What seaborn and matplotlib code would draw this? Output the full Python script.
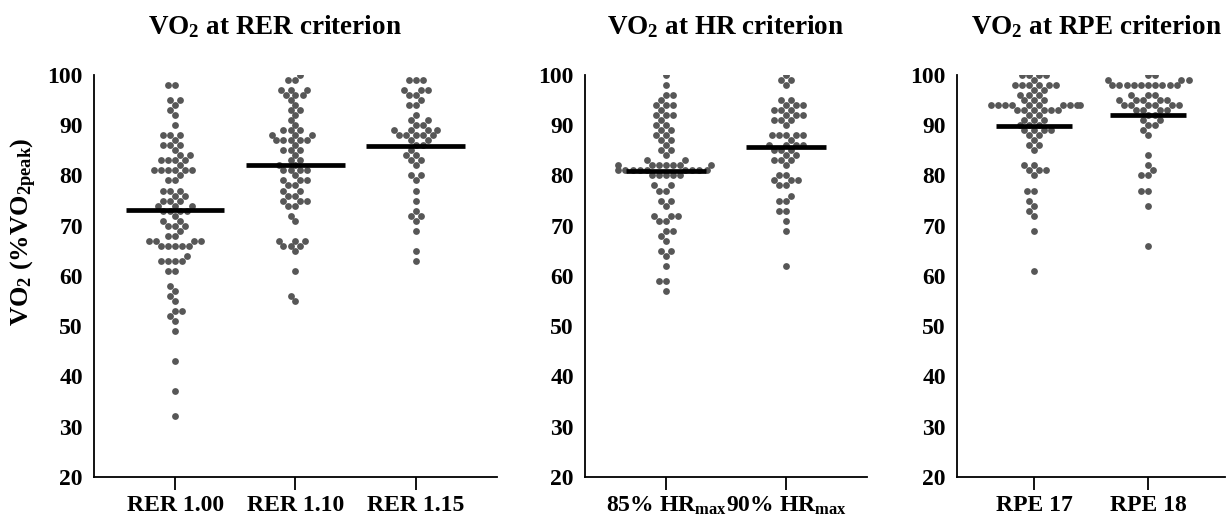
import numpy as np
import pandas as pd
import seaborn as sns
import matplotlib.pyplot as plt

# values (value -> number of dots)
rer100_vals = [98, 95, 94, 93, 92, 90, 88, 87, 86, 85, 84, 83, 82, 81, 80, 79, 77, 76, 75, 74, 73,
               72, 71, 70, 69, 68, 67, 66, 64, 63, 61, 58, 57, 56, 55, 53, 52, 51, 49, 43, 37, 32]
rer100_n = [2, 2, 1, 1, 1, 1, 3, 1, 3, 1, 2, 4, 1, 6, 1, 2, 3, 2, 3, 3, 4,
            1, 2, 3, 1, 2, 4, 5, 1, 4, 2, 1, 1, 1, 1, 2, 1, 1, 1, 1, 1, 1]
rer110_vals = [100, 99, 97, 96, 95, 94, 93, 92, 91, 90, 89, 88, 87, 86, 85, 84, 83, 82, 81, 80,
               79, 78, 77, 76, 75, 74, 72, 71, 67, 66, 65, 61, 56, 55]
rer110_n = [1, 2, 3, 3, 1, 1, 2, 1, 1, 1, 3, 3, 5, 1, 3, 1, 2, 2, 4, 1,
            3, 2, 2, 2, 3, 2, 1, 1, 3, 3, 1, 1, 1, 1]
rer115_vals = [99, 97, 96, 95, 94, 92, 91, 90, 89, 88, 87, 86, 85, 84, 83, 82, 80, 79, 77, 75,
               73, 72, 71, 69, 65, 63]
rer115_n = [3, 3, 2, 1, 2, 1, 2, 2, 4, 5, 2, 2, 1, 2, 2, 1, 2, 1, 1, 1,
            1, 2, 1, 1, 1, 1]
hr85_vals = [100, 98, 96, 95, 94, 93, 92, 91, 90, 89, 88, 87, 86, 85, 84, 83, 82, 81, 80, 78,
             77, 75, 74, 72, 71, 69, 68, 67, 65, 64, 62, 59, 57]
hr85_n = [1, 1, 2, 1, 3, 1, 3, 1, 2, 2, 2, 2, 1, 2, 1, 2, 7, 9, 5, 2,
          2, 2, 1, 3, 2, 2, 1, 1, 2, 1, 1, 2, 1]
hr90_vals = [100, 99, 98, 95, 94, 93, 92, 91, 90, 88, 87, 86, 85, 84, 83, 82, 80, 79, 78, 76,
             75, 73, 71, 69, 62]
hr90_n = [1, 2, 1, 2, 3, 3, 3, 3, 1, 5, 1, 4, 3, 2, 3, 1, 2, 3, 2, 1,
          2, 2, 1, 1, 1]
rpe17_vals = [100, 99, 98, 97, 96, 95, 94, 93, 92, 91, 90, 89, 88, 87, 86, 85, 82, 81, 80, 77,
              75, 74, 73, 72, 69, 61]
rpe17_n = [4, 1, 6, 2, 3, 3, 10, 6, 2, 3, 3, 4, 2, 1, 2, 1, 2, 3, 1, 2,
           1, 1, 1, 1, 1, 1]
rpe18_vals = [100, 99, 98, 96, 95, 94, 93, 92, 91, 90, 89, 88, 84, 82, 81, 80, 77, 74, 66]
rpe18_n = [2, 3, 10, 3, 5, 6, 4, 2, 2, 2, 1, 1, 1, 1, 1, 2, 2, 1, 1]

panels = [
    (r"VO$_\mathbf{2}$ at RER criterion", ["RER 1.00", "RER 1.10", "RER 1.15"],
     [(rer100_vals, rer100_n), (rer110_vals, rer110_n), (rer115_vals, rer115_n)]),
    (r"VO$_\mathbf{2}$ at HR criterion", [r"85% HR$_{\mathrm{max}}$", r"90% HR$_{\mathrm{max}}$"],
     [(hr85_vals, hr85_n), (hr90_vals, hr90_n)]),
    (r"VO$_\mathbf{2}$ at RPE criterion", ["RPE 17", "RPE 18"],
     [(rpe17_vals, rpe17_n), (rpe18_vals, rpe18_n)]),
]

sns.set_style("ticks")
plt.rcParams['font.family'] = ['Liberation Serif', 'DejaVu Serif']
plt.rcParams['font.weight'] = 'bold'
plt.rcParams['mathtext.fontset'] = 'custom'
plt.rcParams['mathtext.rm'] = 'Liberation Serif'
plt.rcParams['mathtext.bf'] = 'Liberation Serif:bold'
plt.rcParams['mathtext.it'] = 'Liberation Serif:italic'
for key in ['text.color', 'axes.labelcolor', 'xtick.color', 'ytick.color', 'axes.edgecolor']:
    plt.rcParams[key] = 'black'

fig = plt.figure(figsize=(12.27, 5.21), dpi=100)
# axes boxes [left, bottom, width, height] in figure fraction
boxes = [[0.0766, 0.085, 0.3284, 0.771],
         [0.4768, 0.085, 0.2298, 0.771],
         [0.7800, 0.085, 0.2184, 0.771]]
title_x = [0.449, 0.5, 0.52]
half_w = [0.41, 0.33, 0.33]  # half width of the mean bars

for k, (title, labels, groups) in enumerate(panels):
    ax = fig.add_axes(boxes[k])
    rows = []
    for lab, (vals, n) in zip(labels, groups):
        for v in np.repeat(vals, n):
            rows.append({'group': lab, 'value': v})
    df = pd.DataFrame(rows)
    sns.swarmplot(data=df, x='group', y='value', order=labels, color='#575757',
                  size=4.9, linewidth=0, ax=ax)
    means = df.groupby('group')['value'].mean()
    for i, lab in enumerate(labels):
        ax.hlines(means[lab], i - half_w[k], i + half_w[k], color='black', lw=3.4, zorder=5)

    ax.set_xlim(-0.675, len(labels) - 1 + 0.675)
    ax.set_ylim(20, 100)
    ax.set_yticks(range(20, 101, 10))
    ax.set_xlabel('')
    ax.set_ylabel('')
    sns.despine(ax=ax)
    for s in ['left', 'bottom']:
        ax.spines[s].set_linewidth(1.3)
        ax.spines[s].set_color('black')
    ax.tick_params(axis='y', length=0, pad=8, labelsize=17, colors='black')
    ax.tick_params(axis='x', length=9, width=1.3, pad=4, labelsize=17, colors='black')
    for t in ax.get_xticklabels() + ax.get_yticklabels():
        t.set_fontweight('bold')
    ax.text(title_x[k], 1.12, title, transform=ax.transAxes, ha='center', va='center',
            fontsize=19.5, fontweight='bold', color='black')
    if k == 0:
        ax.set_ylabel(r"VO$_\mathbf{2}$ (%VO$_\mathbf{2peak}$)", fontsize=19,
                      fontweight='bold', color='black')
        ax.yaxis.set_label_coords(-0.137, 0.61)

fig.savefig('out.png', dpi=100)
